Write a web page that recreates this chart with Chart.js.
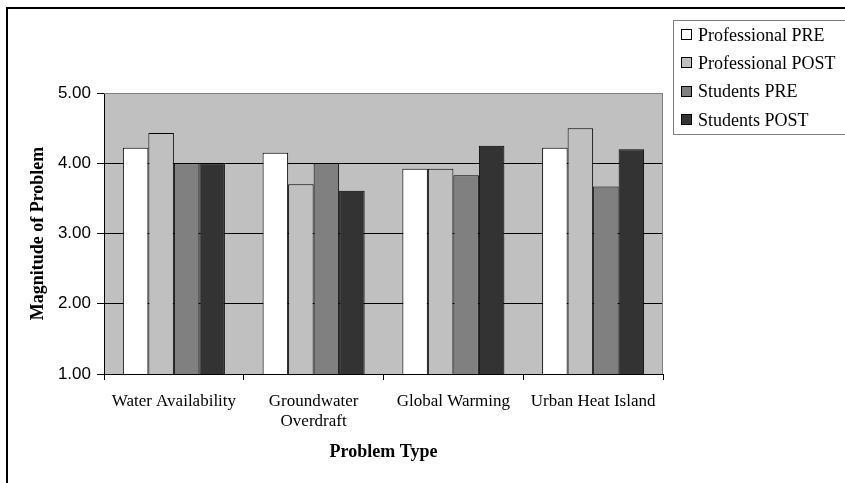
<!DOCTYPE html>
<html>
<head>
<meta charset="utf-8">
<script src="https://cdn.jsdelivr.net/npm/chart.js@4/dist/chart.umd.min.js"></script>
<style>
  html, body { margin: 0; padding: 0; background: #fff; }
  #wrap { position: relative; width: 845px; height: 483px; }
</style>
</head>
<body>
<div id="wrap"><canvas id="c" width="845" height="483"></canvas></div>
<script>
const categories = ['Water Availability', ['Groundwater', 'Overdraft'], 'Global Warming', 'Urban Heat Island'];
const professionalPre  = [4.22, 4.15, 3.92, 4.22];
const professionalPost = [4.43, 3.70, 3.92, 4.50];
const studentsPre      = [4.00, 4.00, 3.83, 3.67];
const studentsPost     = [4.00, 3.61, 4.25, 4.20];
const seriesNames = ['Professional PRE', 'Professional POST', 'Students PRE', 'Students POST'];
const yTicks = [1, 2, 3, 4, 5];

const SERIF = "'Liberation Serif', 'Times New Roman', serif";
const SANS = "'Liberation Sans', Arial, sans-serif";
const colors = ['#FFFFFF', '#C0C0C0', '#808080', '#333333'];

const framePlugin = {
  id: 'frame',
  beforeDraw(chart) {
    const ctx = chart.ctx, a = chart.chartArea;
    ctx.save();
    ctx.fillStyle = '#C0C0C0';
    ctx.fillRect(a.left, a.top, a.right - a.left, a.bottom - a.top);
    ctx.strokeStyle = '#000';
    ctx.lineWidth = 2;
    ctx.beginPath();
    ctx.moveTo(7, 490); ctx.lineTo(7, 8); ctx.lineTo(850, 8);
    ctx.stroke();
    ctx.restore();
  },
  beforeDatasetsDraw(chart) {
    const ctx = chart.ctx, a = chart.chartArea;
    ctx.save();
    ctx.strokeStyle = '#808080';
    ctx.lineWidth = 1;
    ctx.beginPath();
    ctx.moveTo(a.left, a.top + 0.5); ctx.lineTo(a.right - 0.5, a.top + 0.5); ctx.lineTo(a.right - 0.5, a.bottom);
    ctx.stroke();
    ctx.restore();
  },
  afterDraw(chart) {
    const ctx = chart.ctx;
    ctx.save();
    ctx.fillStyle = '#fff';
    ctx.fillRect(673.5, 20.5, 180, 114);
    ctx.strokeStyle = '#808080';
    ctx.lineWidth = 1;
    ctx.strokeRect(673.5, 20.5, 180, 114);
    ctx.font = '18px ' + SERIF;
    ctx.textBaseline = 'middle';
    ctx.textAlign = 'left';
    chart.data.datasets.forEach((ds, i) => {
      const cy = 35 + i * 28.3;
      ctx.fillStyle = ds.backgroundColor;
      ctx.fillRect(681.5, Math.round(cy) - 5.5, 10, 10);
      ctx.strokeStyle = '#000';
      ctx.strokeRect(681.5, Math.round(cy) - 5.5, 10, 10);
      ctx.fillStyle = '#000';
      ctx.fillText(ds.label, 698, cy + 1);
    });
    ctx.restore();
  }
};

new Chart(document.getElementById('c'), {
  type: 'bar',
  data: {
    labels: categories,
    datasets: [professionalPre, professionalPost, studentsPre, studentsPost].map((d, i) => ({
      label: seriesNames[i],
      data: d,
      backgroundColor: colors[i],
      borderColor: '#000',
      borderWidth: 1,
      borderSkipped: false,
      categoryPercentage: 0.73,
      barPercentage: 1.0
    }))
  },
  options: {
    responsive: false,
    animation: false,
    devicePixelRatio: 1,
    layout: { padding: { top: 93, right: 182, left: 0, bottom: 0 } },
    plugins: { legend: { display: false }, tooltip: { enabled: false } },
    scales: {
      x: {
        grid: { display: true, drawOnChartArea: false, drawTicks: true, tickLength: 6, color: '#000', offset: true },
        border: { display: true, color: '#000', width: 1 },
        ticks: { color: '#000', font: { family: SERIF, size: 17 }, padding: 11, maxRotation: 0, autoSkip: false },
        title: { display: true, text: 'Problem Type', color: '#000', font: { family: SERIF, size: 18, weight: 'bold' }, padding: { top: 0, bottom: 20 } },
        afterFit(scale) { scale.height = 109; }
      },
      y: {
        min: 1, max: 5,
        afterBuildTicks(scale) { scale.ticks = yTicks.map(v => ({ value: v })); },
        grid: {
          color: (c) => (c.tick && c.tick.value === 5 ? '#808080' : '#000'),
          tickColor: '#000',
          tickLength: 7,
          drawTicks: true
        },
        border: { display: true, color: '#000', width: 1 },
        ticks: { color: '#000', font: { family: SANS, size: 17 }, padding: 6, callback: (v) => Number(v).toFixed(2) },
        title: { display: true, text: 'Magnitude of Problem', color: '#000', font: { family: SERIF, size: 18, weight: 'bold' }, padding: { top: 28, bottom: 0 } },
        afterFit(scale) { scale.width = 104; }
      }
    }
  },
  plugins: [framePlugin]
});
</script>
</body>
</html>
